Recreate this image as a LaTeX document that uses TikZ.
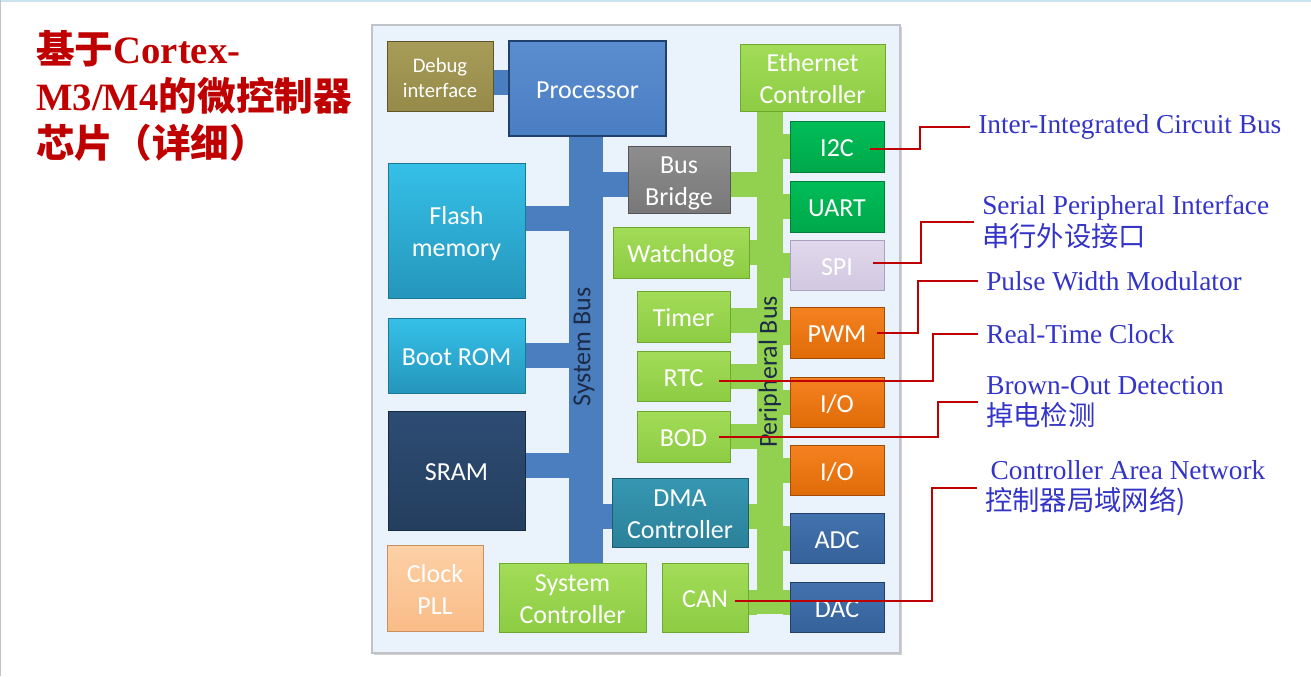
\documentclass[tikz,border=0pt]{standalone}
\usepackage{fontspec}
\usetikzlibrary{shadows}
\newfontfamily\boxfont{Carlito}
\newfontfamily\lblfont{Liberation Serif}
\newfontfamily\cjk{Noto Sans CJK SC}
\definecolor{panelbg}{HTML}{EAF2FB}
\definecolor{panelline}{HTML}{C0C4C8}
\definecolor{dbgA}{HTML}{A79C58}\definecolor{dbgB}{HTML}{958A48}\definecolor{dbgD}{HTML}{5E5628}
\definecolor{procA}{HTML}{5A8DD0}\definecolor{procB}{HTML}{4A7EC2}\definecolor{procD}{HTML}{22406E}
\definecolor{lgA}{HTML}{A2DC58}\definecolor{lgB}{HTML}{8ECC44}\definecolor{lgD}{HTML}{6FA830}
\definecolor{gA}{HTML}{00BD58}\definecolor{gB}{HTML}{00A84A}\definecolor{gD}{HTML}{00803A}
\definecolor{spiA}{HTML}{E0D8EC}\definecolor{spiB}{HTML}{D2C8E0}\definecolor{spiD}{HTML}{ABA0C0}
\definecolor{orA}{HTML}{F58220}\definecolor{orB}{HTML}{E06C08}\definecolor{orD}{HTML}{A04E05}
\definecolor{dbA}{HTML}{4272AE}\definecolor{dbB}{HTML}{36629A}\definecolor{dbD}{HTML}{22406A}
\definecolor{grA}{HTML}{8E8E8E}\definecolor{grB}{HTML}{787878}\definecolor{grD}{HTML}{555555}
\definecolor{dmaA}{HTML}{3697B2}\definecolor{dmaB}{HTML}{2B8199}\definecolor{dmaD}{HTML}{1D5E72}
\definecolor{cyA}{HTML}{35C0E8}\definecolor{cyB}{HTML}{2596BC}\definecolor{cyD}{HTML}{1C7898}
\definecolor{srA}{HTML}{2D4C73}\definecolor{srB}{HTML}{243E5E}\definecolor{srD}{HTML}{182B42}
\definecolor{clA}{HTML}{FDD0A6}\definecolor{clB}{HTML}{F9BC88}\definecolor{clD}{HTML}{C89060}
\definecolor{sysbusc}{HTML}{4A7EBF}
\definecolor{perbusc}{HTML}{92D050}
\definecolor{bustxt}{HTML}{1C2B45}
\definecolor{lblblue}{HTML}{3434C8}
\definecolor{titlered}{HTML}{C00000}
\definecolor{leaderred}{HTML}{C00000}
\definecolor{topstrip}{HTML}{C9E3F0}
\pgfdeclarelayer{back}
\pgfdeclarelayer{bg}
\pgfsetlayers{back,bg,main}
\newcommand\blktext[1]{\raisebox{-3pt}[\height][\depth]{\begin{tabular}{@{}c@{}}#1\end{tabular}}}
\newcommand\blk[7]{%
  \node[#6, minimum width={(#4-#2)*0.75pt}, minimum height={(#5-#3)*0.75pt}] (#1) at ({(#2+#4)/2},{(#3+#5)/2}) {#7};}
\begin{document}
\begin{tikzpicture}[x=0.75pt,y=-0.75pt,
  blkbase/.style={rectangle, inner sep=0pt, outer sep=0pt, text=white,
    font=\boxfont\fontsize{19.5}{24}\selectfont, line width=0.7pt,
    drop shadow={opacity=0.3, shadow xshift=1pt, shadow yshift=-1pt}},
  dbgbox/.style={blkbase, top color=dbgA, bottom color=dbgB, draw=dbgD, font=\boxfont\fontsize{15.5}{18.75}\selectfont},
  procbox/.style={blkbase, top color=procA, bottom color=procB, draw=procD, line width=1.4pt},
  lgbox/.style={blkbase, top color=lgA, bottom color=lgB, draw=lgD},
  gbox/.style={blkbase, top color=gA, bottom color=gB, draw=gD},
  spibox/.style={blkbase, top color=spiA, bottom color=spiB, draw=spiD},
  orbox/.style={blkbase, top color=orA, bottom color=orB, draw=orD},
  dbbox/.style={blkbase, top color=dbA, bottom color=dbB, draw=dbD},
  grbox/.style={blkbase, top color=grA, bottom color=grB, draw=grD},
  dmabox/.style={blkbase, top color=dmaA, bottom color=dmaB, draw=dmaD},
  cybox/.style={blkbase, top color=cyA, bottom color=cyB, draw=cyD},
  srbox/.style={blkbase, top color=srA, bottom color=srB, draw=srD},
  clbox/.style={blkbase, top color=clA, bottom color=clB, draw=clD},
  panelbox/.style={rectangle, inner sep=0pt, outer sep=0pt, fill=panelbg, draw=panelline, line width=1.2pt,
    drop shadow={opacity=0.35, shadow xshift=1.5pt, shadow yshift=-1.5pt}},
  sbus/.style={rectangle, inner sep=0pt, outer sep=0pt, fill=sysbusc},
  pbus/.style={rectangle, inner sep=0pt, outer sep=0pt, fill=perbusc},
  buslbl/.style={rotate=90, inner sep=0pt, text=bustxt, font=\boxfont\fontsize{19.5}{24}\selectfont},
  sconn/.style={draw=sysbusc, line width=18.75pt},
  pconn/.style={draw=perbusc, line width=18.75pt},
  leader/.style={draw=leaderred, line width=1.5pt},
  lbl/.style={anchor=west, inner xsep=6pt, inner ysep=0pt, text=lblblue, align=left,
    font=\lblfont\fontsize{20.5}{23.5}\selectfont},
  titletxt/.style={anchor=base west, inner sep=0pt, text=titlered, font=\fontsize{29}{34}\selectfont}
]
\useasboundingbox (0,0) rectangle (1311,676);
\begin{pgfonlayer}{back}
\fill[white] (0,0) rectangle (1311,676);
\fill[topstrip] (0,0) rectangle (1311,2);
\fill[panelline] (0,0) rectangle (1,676);
\blk{panel}{372}{25}{900}{653}{panelbox}{}
\end{pgfonlayer}

% title
\node[titletxt] (t1) at (36,63) {{\cjk\bfseries 基于}{\lblfont\bfseries Cortex-}};
\node[titletxt] (t2) at (36,110) {{\lblfont\bfseries M3/M4}{\cjk\bfseries 的微控制器}};
\node[titletxt] (t3) at (36,157) {{\cjk\bfseries 芯片（详细）}};

% buses
\blk{sysbus}{569}{136}{603}{563}{sbus}{}
\blk{perbus}{757}{111}{783}{614}{pbus}{}
\node[buslbl] (sbl) at (584,347) {System Bus};
\node[buslbl] (pbl) at (770,372) {Peripheral Bus};

% blocks
\blk{dbg}{387}{41}{493}{111}{dbgbox}{\blktext{Debug\\interface}}
\blk{proc}{509}{41}{666}{136}{procbox}{\blktext{Processor}}
\blk{eth}{740}{44}{885}{111}{lgbox}{\blktext{Ethernet\\Controller}}
\blk{i2c}{790}{121}{884}{172}{gbox}{\blktext{I2C}}
\blk{uart}{790}{181}{884}{232}{gbox}{\blktext{UART}}
\blk{spi}{790}{240}{884}{290}{spibox}{\blktext{SPI}}
\blk{pwm}{790}{307}{884}{358}{orbox}{\blktext{PWM}}
\blk{ioa}{790}{377}{884}{427}{orbox}{\blktext{I/O}}
\blk{iob}{790}{445}{884}{495}{orbox}{\blktext{I/O}}
\blk{adc}{790}{513}{884}{563}{dbbox}{\blktext{ADC}}
\blk{dac}{790}{582}{884}{632}{dbbox}{\blktext{DAC}}
\blk{bridge}{628}{146}{730}{213}{grbox}{\blktext{Bus\\Bridge}}
\blk{wdog}{613}{227}{749}{278}{lgbox}{\blktext{Watchdog}}
\blk{timer}{637}{291}{730}{342}{lgbox}{\blktext{Timer}}
\blk{rtc}{637}{351}{730}{401}{lgbox}{\blktext{RTC}}
\blk{bod}{637}{411}{730}{462}{lgbox}{\blktext{BOD}}
\blk{dma}{612}{478}{748}{547}{dmabox}{\blktext{DMA\\Controller}}
\blk{can}{662}{563}{748}{632}{lgbox}{\blktext{CAN}}
\blk{sysc}{499}{563}{646}{632}{lgbox}{\blktext{System\\Controller}}
\blk{clk}{387}{545}{483}{631}{clbox}{\blktext{Clock\\PLL}}
\blk{flash}{388}{163}{525}{298}{cybox}{\blktext{Flash\\memory}}
\blk{boot}{388}{318}{525}{393}{cybox}{\blktext{Boot ROM}}
\blk{sram}{388}{411}{525}{530}{srbox}{\blktext{SRAM}}

% bus branches
\begin{pgfonlayer}{bg}
\draw[sconn] ([yshift=-4.5pt]dbg.east) coordinate (c1) -- (c1 -| proc.west);
\draw[sconn] ([yshift=-3.75pt]bridge.west) coordinate (c2) -- (c2 -| sysbus.east);
\draw[sconn] ([yshift=9pt]flash.east) coordinate (c3) -- (c3 -| sysbus.west);
\draw[sconn] (boot.east) -- (boot.east -| sysbus.west);
\draw[sconn] ([yshift=4pt]sram.east) coordinate (c4) -- (c4 -| sysbus.west);
\draw[sconn] ([yshift=-3pt]dma.west) coordinate (c5) -- (c5 -| sysbus.east);
\draw[pconn] ([yshift=-3.75pt]bridge.east) coordinate (g1) -- (g1 -| perbus.west);
\draw[pconn] (wdog.east) -- (wdog.east -| perbus.west);
\draw[pconn] ([yshift=-3pt]timer.east) coordinate (g2) -- (g2 -| perbus.west);
\draw[pconn] (rtc.east) -- (rtc.east -| perbus.west);
\draw[pconn] (bod.east) -- (bod.east -| perbus.west);
\draw[pconn] ([yshift=-3pt]dma.east) coordinate (g3) -- (g3 -| perbus.west);
\draw[pconn] ([yshift=-3.4pt]can.east) coordinate (g4) -- (g4 -| perbus.west);
\draw[pconn] (i2c.west) -- (i2c.west -| perbus.east);
\draw[pconn] (uart.west) -- (uart.west -| perbus.east);
\draw[pconn] (spi.west) -- (spi.west -| perbus.east);
\draw[pconn] (pwm.west) -- (pwm.west -| perbus.east);
\draw[pconn] (ioa.west) -- (ioa.west -| perbus.east);
\draw[pconn] (iob.west) -- (iob.west -| perbus.east);
\draw[pconn] (adc.west) -- (adc.west -| perbus.east);
\draw[pconn] ([yshift=3.75pt]dac.west) coordinate (g5) -- (g5 -| perbus.east);
\end{pgfonlayer}

% side labels
\node[lbl] (li2c) at (970,127) {Inter-Integrated Circuit Bus};
\node[lbl] (lspi) at (974,222) {Serial Peripheral Interface\\{\cjk 串行外设接口}};
\node[lbl] (lpwm) at (978,281) {Pulse Width Modulator};
\node[lbl] (lrtc) at (978,334) {Real-Time Clock};
\node[lbl] (lbod) at (978,402) {Brown-Out Detection\\{\cjk 掉电检测}};
\node[lbl] (lcan) at (977,488) {\hspace*{4pt}Controller Area Network\\{\cjk 控制器局域网络)}};

% leader bend columns
\coordinate (x1) at (920,0);
\coordinate (x2) at (921,0);
\coordinate (x3) at (918,0);
\coordinate (x4) at (933,0);
\coordinate (x5) at (938,0);
\coordinate (x6) at (932,0);

\draw[leader] ([xshift=-10.5pt,yshift=-2pt]i2c.east) -| (x1 |- li2c.west) -- (li2c.west);
\draw[leader] ([xshift=-8pt,yshift=1.5pt]spi.east) -| (x2 |- lspi.west) -- (lspi.west);
\draw[leader] ([xshift=-5pt]pwm.east) -| (x3 |- lpwm.west) -- (lpwm.west);
\draw[leader] ([xshift=-8pt,yshift=-4pt]rtc.east) -| (x4 |- lrtc.west) -- (lrtc.west);
\draw[leader] ([xshift=-8pt]bod.east) -| (x5 |- lbod.west) -- (lbod.west);
\draw[leader] ([xshift=-10pt,yshift=-2.6pt]can.east) -| (x6 |- lcan.west) -- (lcan.west);
\end{tikzpicture}
\end{document}
